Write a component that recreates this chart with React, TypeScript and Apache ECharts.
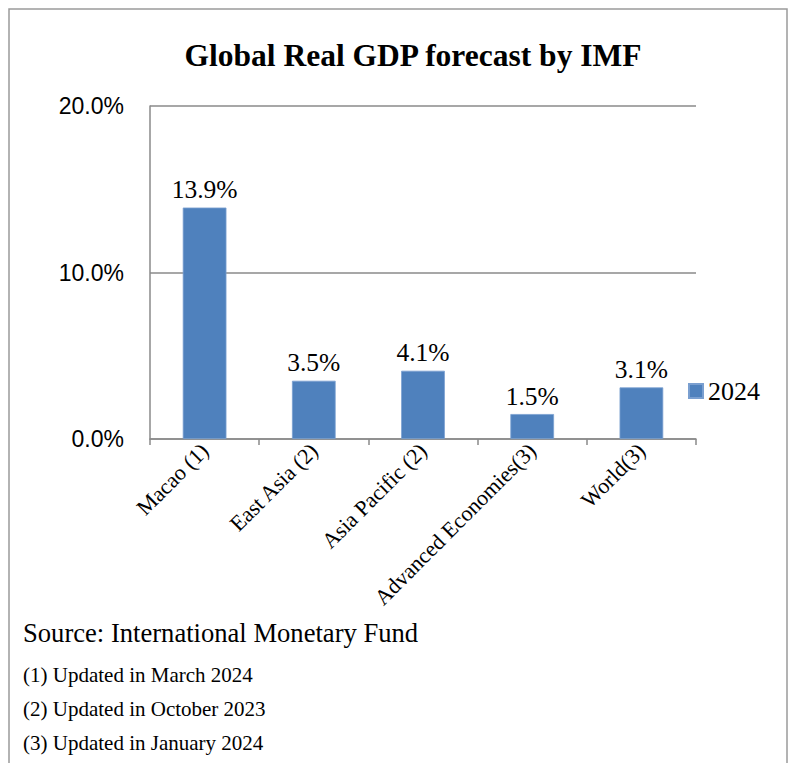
import React, { useEffect, useRef } from "react";
import * as echarts from "echarts";

const categories = ["Macao (1)", "East Asia (2)", "Asia Pacific (2)", "Advanced Economies(3)", "World(3)"];
const values2024 = [13.9, 3.5, 4.1, 1.5, 3.1];
const seriesName = "2024";
const yMin = 0;
const yMax = 20;
const yInterval = 10;
const titleText = "Global Real GDP forecast by IMF";
const sourceText = "Source: International Monetary Fund";
const footnotes = ["(1) Updated in March 2024", "(2) Updated in October 2023", "(3) Updated in January 2024"];

const SERIF = "'Liberation Serif', 'Times New Roman', serif";
const SANS = "'Liberation Sans', Arial, sans-serif";
const GRAY = "#8a8a8a";

export default function App() {
  const ref = useRef<HTMLDivElement>(null);
  useEffect(() => {
    if (!ref.current) return;
    const chart = echarts.init(ref.current, null, { renderer: "svg" });
    const footY = [675, 709, 743];
    chart.setOption({
      animation: false,
      backgroundColor: "#ffffff",
      grid: { left: 150, right: 96, top: 106, bottom: 324, containLabel: false },
      legend: {
        data: [seriesName],
        left: 688,
        top: 378,
        padding: 0,
        icon: "rect",
        itemWidth: 14,
        itemHeight: 14,
        textStyle: { fontFamily: SERIF, fontSize: 26, color: "#000" },
      },
      xAxis: {
        type: "category",
        data: categories,
        axisLine: { show: true, lineStyle: { color: GRAY, width: 1.5 } },
        axisTick: { show: true, length: 6, lineStyle: { color: GRAY, width: 1.5 } },
        axisLabel: {
          rotate: 45,
          interval: 0,
          margin: 8,
          fontFamily: SERIF,
          fontSize: 22,
          color: "#000",
        },
      },
      yAxis: {
        type: "value",
        min: yMin,
        max: yMax,
        interval: yInterval,
        axisLine: { show: true, lineStyle: { color: GRAY, width: 1.5 } },
        axisTick: { show: false },
        splitLine: { show: true, lineStyle: { color: GRAY, width: 1.5 } },
        axisLabel: {
          margin: 26,
          fontFamily: SANS,
          fontSize: 23,
          color: "#000",
          formatter: (v: number) => v.toFixed(1) + "%",
        },
      },
      series: [
        {
          name: seriesName,
          type: "bar",
          data: values2024,
          barWidth: "40%",
          itemStyle: { color: "#4F81BD", borderColor: "#7a9fd0", borderWidth: 0.8 },
          label: {
            show: true,
            position: "top",
            distance: 5,
            fontFamily: SERIF,
            fontSize: 25.5,
            color: "#000",
            formatter: (p: any) => Number(p.value).toFixed(1) + "%",
          },
        },
      ],
      graphic: [
        {
          type: "rect",
          shape: { x: 9, y: 9, width: 778, height: 800 },
          style: { fill: "none", stroke: "#9a9a9a", lineWidth: 1.5 },
          silent: true,
        },
        {
          type: "text",
          x: 413,
          y: 55,
          style: {
            text: titleText,
            fontFamily: SERIF,
            fontSize: 31.5,
            fontWeight: "bold",
            fill: "#000",
            textAlign: "center",
            textVerticalAlign: "middle",
          },
        },
        {
          type: "text",
          x: 23,
          y: 633,
          style: {
            text: sourceText,
            fontFamily: SERIF,
            fontSize: 26.6,
            fill: "#000",
            textAlign: "left",
            textVerticalAlign: "middle",
          },
        },
        ...footnotes.map((t, i) => ({
          type: "text",
          x: 23,
          y: footY[i],
          style: {
            text: t,
            fontFamily: SERIF,
            fontSize: 21,
            fill: "#000",
            textAlign: "left",
            textVerticalAlign: "middle",
          },
        })),
      ],
    });
    return () => chart.dispose();
  }, []);
  return (
    <div
      ref={ref}
      style={{ position: "fixed", left: 0, top: 0, width: 792, height: 763, background: "#fff" }}
    />
  );
}
